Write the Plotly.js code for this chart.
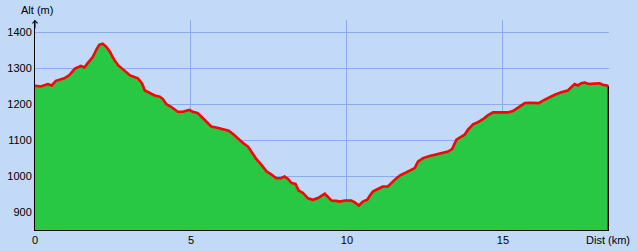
<!DOCTYPE html>
<html>
<head>
<meta charset="utf-8">
<script src="https://cdn.plot.ly/plotly-3.0.1.min.js"></script>
<style>html,body{margin:0;padding:0;background:#C2D9F7;}#chart{width:638px;height:251px;}</style>
</head>
<body>
<div id="chart"></div>
<script>
// Distance along the route (km)
const distKm = [0, 0.19, 0.41, 0.54, 0.67, 0.94, 1.10, 1.28, 1.47, 1.58, 1.69, 1.85, 1.98, 2.06, 2.17, 2.28, 2.40, 2.54, 2.68, 2.86, 3.05,
  3.30, 3.43, 3.52, 3.68, 3.84, 4.00, 4.10, 4.21, 4.37, 4.58, 4.74, 4.94, 5.06, 5.22, 5.38, 5.54, 5.65, 5.81, 5.97, 6.13,
  6.21, 6.35, 6.51, 6.67, 6.83, 6.96, 7.10, 7.26, 7.42, 7.58, 7.74, 7.88, 8.00, 8.11, 8.22, 8.35, 8.45, 8.59, 8.75, 8.91,
  9.07, 9.29, 9.39, 9.50, 9.66, 9.77, 9.93, 10.14, 10.25, 10.38, 10.51, 10.65, 10.73, 10.83, 10.99, 11.15, 11.31, 11.42,
  11.56, 11.69, 11.85, 12.01, 12.17, 12.28, 12.44, 12.65, 12.81, 13.03, 13.24, 13.37, 13.43, 13.51, 13.67, 13.77, 13.88,
  14.04, 14.20, 14.36, 14.50, 14.68, 14.89, 15.16, 15.32, 15.53, 15.70, 15.86, 16.02, 16.15, 16.28, 16.47, 16.66, 16.87,
  17.08, 17.19, 17.30, 17.40, 17.51, 17.62, 17.76, 17.94, 18.10, 18.20, 18.33, 18.38];
// Altitude (m)
const altM = [1251, 1249, 1256, 1252, 1265, 1272, 1281, 1299, 1306, 1302, 1314, 1331, 1354, 1365, 1368, 1360, 1346, 1323, 1307, 1293, 1280,
  1272, 1258, 1238, 1231, 1224, 1221, 1214, 1200, 1192, 1179, 1179, 1184, 1179, 1175, 1161, 1149, 1138, 1135, 1131, 1127,
  1126, 1117, 1104, 1092, 1082, 1066, 1047, 1031, 1013, 1004, 994, 994, 999, 992, 981, 978, 960, 953, 938, 934,
  939, 951, 943, 932, 931, 929, 932, 932, 927, 918, 929, 934, 945, 957, 964, 971, 971, 981,
  992, 1001, 1008, 1016, 1022, 1041, 1050, 1056, 1059, 1064, 1068, 1075, 1087, 1101, 1110, 1115, 1129,
  1144, 1150, 1158, 1168, 1177, 1177, 1177, 1181, 1193, 1203, 1204, 1203, 1203, 1210, 1219, 1226, 1233,
  1238, 1247, 1256, 1252, 1258, 1260, 1256, 1257, 1258, 1254, 1252, 1249];
const xTickVals = [0, 5, 10, 15];
const xTickText = ['0', '5', '10', '15'];
const yTickVals = [900, 1000, 1100, 1200, 1300, 1400];
const yTickText = ['900', '1000', '1100', '1200', '1300', '1400'];
const xLabel = 'Dist (km)';
const yLabel = 'Alt (m)';

const xMax = 18.4, yMin = 850, yMax = 1434;
const lastX = distKm[distKm.length - 1];
const lastY = altM[altM.length - 1];

const traces = [
  {
    x: distKm, y: altM, type: 'scatter', mode: 'lines',
    fill: 'tozeroy', fillcolor: '#28C844',
    line: {color: '#FF0000', width: 2.6},
    hoverinfo: 'skip'
  },
  {
    x: [lastX, lastX], y: [yMin, lastY], type: 'scatter', mode: 'lines',
    line: {color: '#000000', width: 1.5}, hoverinfo: 'skip'
  }
];

const font = {family: 'Arial, "Liberation Sans", sans-serif', size: 11, color: '#000000'};

const layout = {
  width: 638, height: 251,
  margin: {l: 35, r: 29, t: 20, b: 21, pad: 0},
  paper_bgcolor: '#C2D9F7', plot_bgcolor: '#C2D9F7',
  showlegend: false,
  font: font,
  xaxis: {
    range: [0, xMax], tickvals: xTickVals, ticktext: xTickText,
    showgrid: true, gridcolor: '#8CAAF2', gridwidth: 1,
    zeroline: false, showline: true, linecolor: '#000000', linewidth: 1,
    ticks: '', tickfont: font, fixedrange: true
  },
  yaxis: {
    range: [yMin, yMax], tickvals: yTickVals, ticktext: yTickText,
    showgrid: true, gridcolor: '#8CAAF2', gridwidth: 1,
    zeroline: false, showline: true, linecolor: '#000000', linewidth: 1,
    ticks: '', tickfont: font, fixedrange: true
  },
  annotations: [
    {text: yLabel, xref: 'paper', yref: 'paper', x: 0, y: 1, xanchor: 'left', yanchor: 'middle',
     xshift: -16, yshift: 10, showarrow: false, font: font},
    {text: xLabel, xref: 'paper', yref: 'paper', x: 1, y: 0, xanchor: 'right', yanchor: 'middle',
     xshift: 23, yshift: -10, showarrow: false, font: font},
    {text: '', xref: 'paper', yref: 'paper', x: 0, y: 1, ax: 0, ay: 10, axref: 'pixel', ayref: 'pixel',
     showarrow: true, arrowhead: 4, arrowsize: 1, arrowwidth: 1, arrowcolor: '#000000'}
  ]
};

Plotly.newPlot('chart', traces, layout, {displayModeBar: false, staticPlot: true});
</script>
</body>
</html>
